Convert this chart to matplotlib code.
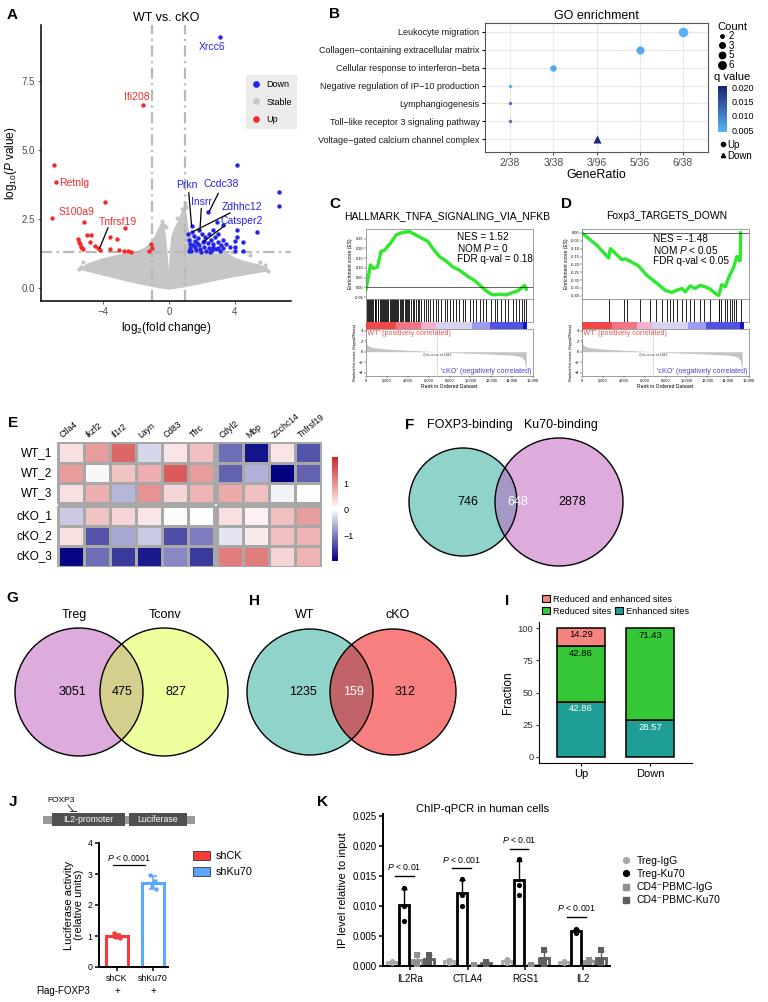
import numpy as np
import matplotlib as mpl
import matplotlib.pyplot as plt
from matplotlib.patches import Circle, Rectangle, Patch
from matplotlib.lines import Line2D
from matplotlib.colors import LinearSegmentedColormap, Normalize

plt.rcParams["font.family"] = ["Liberation Sans", "DejaVu Sans"]
plt.rcParams["mathtext.fontset"] = "custom"
plt.rcParams["mathtext.rm"] = "Liberation Sans"
plt.rcParams["mathtext.it"] = "Liberation Sans:italic"
plt.rcParams["mathtext.bf"] = "Liberation Sans:bold"
plt.rcParams["axes.linewidth"] = 0.8

# ---------------- A: volcano ----------------
up_x = [-6.95, -6.83, -7.07, -3.86, -5.13, -2.67, -1.60, -5.00, -4.75, -3.58, -3.15,
        -5.50, -5.45, -5.40, -5.35, -5.30, -5.20, -4.80, -4.50, -4.30, -4.20, -3.58,
        -3.00, -2.70, -2.50, -2.30, -1.11, -1.00, -1.20]
up_y = [4.47, 3.84, 2.55, 3.12, 2.40, 2.16, 6.63, 1.92, 1.92, 1.85, 1.78,
        1.78, 1.65, 1.58, 1.50, 1.45, 1.42, 1.66, 1.53, 1.45, 1.38, 1.41,
        1.38, 1.33, 1.33, 1.30, 1.60, 1.45, 1.33]
down_x = [3.09, 4.14, 6.67, 6.70, 5.31, 4.15, 2.38, 2.90, 3.30, 2.70, 3.00, 3.30, 4.10,
          4.00, 4.50, 4.00, 4.00, 4.50, 3.70, 3.30, 1.37, 1.41, 1.80, 2.08, 1.20, 1.25,
          1.30, 1.35, 1.50, 1.55, 1.60, 1.65, 1.75, 1.85, 1.90, 2.00, 2.10, 2.20, 2.25,
          2.35, 2.45, 2.55, 2.60, 2.70, 2.80, 2.85, 2.95, 3.10, 3.15, 1.15, 1.22, 1.45,
          1.70, 1.95, 2.15, 2.40, 2.50, 2.65, 3.00, 3.45]
down_y = [9.11, 4.47, 3.49, 2.98, 2.02, 2.10, 2.74, 2.40, 2.30, 2.10, 1.97, 1.74, 1.84,
          1.70, 1.66, 1.50, 1.35, 1.35, 1.50, 1.45, 2.26, 2.04, 2.10, 1.68, 1.75, 1.60,
          1.45, 1.35, 1.90, 1.70, 1.50, 1.38, 1.80, 1.55, 1.40, 1.95, 1.50, 1.85, 1.35,
          1.62, 1.45, 1.75, 1.38, 1.58, 1.85, 1.42, 1.65, 1.35, 1.55, 1.95, 1.35, 1.55,
          1.62, 1.32, 1.72, 1.95, 1.32, 1.50, 1.45, 1.60]
stable_x = [-0.45, 0.95, 5.80, 5.90, -5.20, -1.15, 4.90, 3.80, -0.15, 0.50, 5.50, -5.35,
            -0.30, 0.80, 1.05, 6.00, -5.45]
stable_y = [2.42, 3.08, 0.82, 0.70, 0.95, 1.28, 1.20, 1.30, 2.20, 2.55, 0.95, 0.75,
            2.30, 2.85, 2.95, 0.62, 0.68]
cloud_left_x = [-5.3, -5.0, -4.5, -4.0, -3.5, -3.0, -2.5, -2.0, -1.5, -1.2, -0.9, -0.7, -0.5,
                -0.35, -0.2, -0.08, 0.0, 0.0, -0.5, -1.0, -2.0, -3.0, -4.0, -5.0, -5.3]
cloud_left_y = [0.72, 0.88, 0.98, 1.08, 1.15, 1.22, 1.28, 1.32, 1.45, 1.60, 1.85, 2.10, 2.35,
                2.45, 2.00, 1.20, 0.65, -0.06, -0.02, 0.04, 0.16, 0.30, 0.45, 0.60, 0.65]
cloud_right_x = [0.0, 0.06, 0.15, 0.35, 0.55, 0.75, 0.95, 1.1, 1.2, 1.6, 2.0, 3.0, 3.5, 4.0,
                 4.5, 5.0, 5.5, 5.9, 5.95, 5.5, 5.0, 4.0, 3.0, 2.0, 1.0, 0.0]
cloud_right_y = [0.65, 1.40, 1.90, 2.20, 2.45, 2.75, 3.05, 2.60, 2.10, 1.50, 1.32, 1.25, 1.30,
                 1.10, 1.00, 0.92, 0.85, 0.75, 0.60, 0.55, 0.50, 0.40, 0.28, 0.15, 0.03, -0.06]
volcano_labels = ["Ifi208", "Retnlg", "S100a9", "Tnfrsf19", "Xrcc6", "Prkn", "Ccdc38",
                  "Insrr", "Zdhhc12", "Catsper2"]
volcano_label_dir = ["Up", "Up", "Up", "Up", "Down", "Down", "Down", "Down", "Down", "Down"]

# ---------------- B: GO enrichment ----------------
go_terms = ["Voltage\u2212gated calcium channel complex", "Toll\u2212like receptor 3 signaling pathway",
            "Lymphangiogenesis", "Negative regulation of IP\u221210 production",
            "Cellular response to interferon\u2212beta", "Collagen\u2212containing extracellular matrix",
            "Leukocyte migration"]
go_ratio_levels = ["2/38", "3/38", "3/96", "5/36", "6/38"]
go_ratio = ["3/96", "2/38", "2/38", "2/38", "3/38", "5/36", "6/38"]
go_count = [3, 2, 2, 2, 3, 5, 6]
go_q = [0.0200, 0.0110, 0.0110, 0.0048, 0.0052, 0.0055, 0.0046]
go_dir = ["Down", "Up", "Up", "Up", "Up", "Up", "Up"]

# ---------------- C / D: GSEA ----------------
c_es_rank = [0, 160, 415, 700, 1100, 1435, 1755, 2075, 2390, 2870, 3350, 4150, 4630, 5420, 5900,
             6380, 7020, 7660, 8290, 8930, 9570, 10370, 11000, 11480, 11960, 12280, 12760, 13400,
             14040, 14510, 14930, 15150, 15310]
c_es = [-0.01, 0.035, 0.115, 0.097, 0.105, 0.185, 0.19, 0.21, 0.23, 0.27, 0.28, 0.287, 0.273,
        0.25, 0.237, 0.20, 0.158, 0.135, 0.105, 0.088, 0.062, 0.035, 0.005, -0.018, -0.035,
        -0.039, -0.035, -0.039, -0.026, -0.018, 0.0, 0.01, -0.01]
c_hits = [60, 150, 260, 380, 450, 560, 700, 820, 900, 1000, 1100, 1180, 1300, 1420, 1500, 1580,
          1700, 1800, 1900, 1990, 2100, 2250, 2380, 2450, 2600, 2700, 2800, 2900, 3000, 3100,
          3200, 3350, 3450, 3550, 3700, 3800, 3950, 4050, 4150, 4300, 4450, 4600, 4800, 4950,
          5100, 5300, 5500, 5700, 5900, 6150, 6400, 6700, 6900, 7200, 7500, 7700, 8000, 8300,
          8600, 8900, 9300, 9500, 9900, 10200, 10500, 10900, 11200, 11500, 11900, 12300, 12500,
          12900, 13300, 13600, 14000, 14300, 14600, 14900, 15100, 15250]
c_stats = ["NES = 1.52", "NOM $P$ = 0", "FDR q-val = 0.18"]
d_es_rank = [0, 1427, 2536, 2700, 3800, 4120, 4600, 5390, 6180, 7130, 7925, 8560, 9030, 9510,
             9830, 10300, 10780, 11250, 11730, 12200, 12680, 13000, 13310, 13630, 14040, 14420,
             14740, 14960, 15060, 15100]
d_es = [0.0, -0.079, -0.16, -0.10, -0.17, -0.165, -0.18, -0.21, -0.27, -0.32, -0.365, -0.378,
        -0.364, -0.353, -0.374, -0.337, -0.353, -0.333, -0.343, -0.357, -0.384, -0.398, -0.329,
        -0.343, -0.272, -0.221, -0.150, -0.175, -0.175, 0.0]
d_hits = [2600, 3960, 4280, 5550, 6500, 7070, 7610, 8080, 8400, 8650, 9030, 9510, 9890, 10300,
          10620, 11250, 11570, 12200, 13000, 13090, 13220, 13630, 13850, 14100, 14270, 14490,
          14680, 15120]
d_stats = ["NES = -1.48", "NOM $P$ < 0.05", "FDR q-val < 0.05"]
metric_rank = [0, 100, 300, 800, 2000, 4000, 6000, 6841, 8000, 10000, 12000, 14000, 14800,
               15150, 15300, 15350]
metric_val = [2.0, 1.4, 1.0, 0.75, 0.5, 0.28, 0.08, 0.0, -0.12, -0.3, -0.45, -0.65, -0.9,
              -1.5, -3.0, -4.5]
zero_cross = 6841
strip_edges = [0, 2850, 5250, 6700, 10100, 11800, 15000, 15400]
strip_colors = ["#F04848", "#F27585", "#F5B0CC", "#D6D2F2", "#9C9CF0", "#5252E2", "#1414C4"]

# ---------------- E: heatmap ----------------
hm_genes = ["Ctla4", "Ikzf2", "Il1r2", "Layn", "Cd83", "Tfrc", "Cdyl2", "Mbp", "Zcchc14", "Tnfrsf19"]
hm_samples = ["WT_1", "WT_2", "WT_3", "cKO_1", "cKO_2", "cKO_3"]
hm_vals = np.array([
    [0.30, 0.90, 1.40, -0.30, 0.25, 0.60, -1.10, -1.80, 0.25, -1.30],
    [0.90, -0.05, 0.55, 0.75, 1.50, 0.90, -1.20, -0.60, -2.00, -1.20],
    [0.30, 0.75, -0.55, 1.00, 0.40, 0.70, 0.80, 0.60, -0.08, 0.00],
    [-0.40, 0.55, 0.40, 0.25, 0.05, 0.02, 0.30, 0.15, 0.60, 0.90],
    [0.30, -1.30, -0.65, -0.40, -1.35, -1.00, -0.20, 0.20, 0.60, 0.70],
    [-1.90, -1.10, -1.50, -1.75, -0.90, -1.50, 1.20, 1.20, 0.40, 0.70],
])

# ---------------- F/G/H: Venn ----------------
venn_f_names = ["FOXP3-binding", "Ku70-binding"]
venn_f_counts = [746, 648, 2878]
venn_g_names = ["Treg", "Tconv"]
venn_g_counts = [3051, 475, 827]
venn_h_names = ["WT", "cKO"]
venn_h_counts = [1235, 159, 312]

# ---------------- I: stacked fraction ----------------
i_groups = ["Up", "Down"]
i_enhanced = [42.86, 28.57]
i_reduced = [42.86, 71.43]
i_both = [14.29, 0.0]

# ---------------- J: luciferase ----------------
j_groups = ["shCK", "shKu70"]
j_points = [[1.10, 1.00, 0.97, 0.95], [2.98, 2.78, 2.62, 2.52]]
j_p = "$P$ < 0.0001"

# ---------------- K: ChIP-qPCR ----------------
k_genes = ["IL2Ra", "CTLA4", "RGS1", "IL2"]
k_series = ["Treg-IgG", "Treg-Ku70", "CD4\u207bPBMC-IgG", "CD4\u207bPBMC-Ku70"]
k_points = {
    "Treg-IgG": [[0.0008, 0.0005], [0.0010, 0.0005], [0.0012, 0.0008, 0.0005], [0.0008, 0.0005]],
    "Treg-Ku70": [[0.0129, 0.0100, 0.0075], [0.0145, 0.0118, 0.0100], [0.0178, 0.0135, 0.0118],
                  [0.0062, 0.0058, 0.0055]],
    "CD4\u207bPBMC-IgG": [[0.0018, 0.0003], [0.0001, 0.0001], [0.0001, 0.0001], [0.0010, 0.0006]],
    "CD4\u207bPBMC-Ku70": [[0.0019, 0.0010, 0.0007], [0.0007, 0.0004], [0.0027, 0.0010, 0.0003],
                        [0.0026, 0.0010, 0.0005]],
}
k_pvals = ["$P$ < 0.01", "$P$ < 0.001", "$P$ < 0.01", "$P$ < 0.001"]
k_bar_y = [0.0150, 0.0163, 0.0195, 0.0082]

# =====================================================================
W, H = 768, 1002
fig = plt.figure(figsize=(W / 100, H / 100), dpi=100)


def px_axes(x0, y0, x1, y1):
    return fig.add_axes([x0 / W, 1 - y1 / H, (x1 - x0) / W, (y1 - y0) / H])


def ftext(x, y, s, **kw):
    fig.text(x / W, 1 - y / H, s, **kw)


ov = fig.add_axes([0, 0, 1, 1])
ov.set_xlim(0, W)
ov.set_ylim(H, 0)
ov.axis("off")

for lab, (lx, ly) in zip("ABCDEFGHIJK", [(12, 15), (335, 14), (335, 204), (566, 204), (13, 423),
                                         (410, 425), (12, 598), (254, 601), (507, 601),
                                         (13, 802), (323, 802)]):
    ftext(lx, ly, lab, fontsize=11, fontweight="bold", ha="center", va="center")

RED, BLUE, GREY = "#F22A2A", "#2323EE", "#C6C6C6"

# ---- A
ax = px_axes(41, 25, 291, 301)
ax.fill(cloud_left_x, cloud_left_y, color=GREY, lw=0, zorder=1)
ax.fill(cloud_right_x, cloud_right_y, color=GREY, lw=0, zorder=1)
ax.scatter(stable_x, stable_y, s=9, c=GREY, lw=0, zorder=1)
for xv in (-1, 1):
    ax.axvline(xv, color="#B8B8B8", lw=1.6, ls=(0, (5, 2, 1, 2)), zorder=2)
ax.axhline(-np.log10(0.05), color="#B8B8B8", lw=1.6, ls=(0, (5, 2, 1, 2)), zorder=2)
ax.scatter(up_x, up_y, s=10, c=RED, lw=0, zorder=3)
ax.scatter(down_x, down_y, s=10, c=BLUE, lw=0, zorder=3)
lab_txt = [(-1.94, 6.92), (-6.67, 3.80), (-5.58, 2.75), (-3.09, 2.39), (2.59, 8.75), (1.07, 3.72),
           (3.19, 3.76), (1.98, 3.10), (4.44, 2.92), (4.44, 2.44)]
lab_pt = [None, None, None, (-4.2, 1.45), None, (1.37, 2.26), (2.45, 2.78), (1.88, 2.10),
          (1.45, 2.04), (2.10, 1.68)]
lab_start = [None, None, None, (-3.7, 2.18), None, (1.2, 3.45), (2.99, 3.43), (1.96, 2.88),
             (3.7, 2.72), (3.4, 2.27)]
for name, d, (tx, ty), p, s in zip(volcano_labels, volcano_label_dir, lab_txt, lab_pt, lab_start):
    col = RED if d == "Up" else BLUE
    ax.text(tx, ty, name, color=col, fontsize=7.5, ha="left" if name == "Retnlg" else "center",
            va="center", zorder=5)
    if p is not None:
        ax.plot([s[0], p[0]], [s[1], p[1]], color="black", lw=0.9, zorder=4)
ax.set_xlim(-7.76, 7.4)
ax.set_ylim(-0.47, 9.53)
ax.set_xticks([-4, 0, 4])
ax.set_yticks([0, 2.5, 5.0, 7.5])
ax.set_yticklabels(["0.0", "2.5", "5.0", "7.5"])
for sp in ("top", "right"):
    ax.spines[sp].set_visible(False)
for sp in ("left", "bottom"):
    ax.spines[sp].set_linewidth(1.1)
ax.tick_params(labelsize=7, colors="#4D4D4D", length=2.5, width=0.6, pad=2)
ax.set_xlabel("log$_2$(fold change)", fontsize=8.5, labelpad=2)
ax.set_ylabel("log$_{10}$($P$ value)", fontsize=8.5, labelpad=2)
ax.set_title("WT vs. cKO", fontsize=9, pad=3)
handles = [Line2D([], [], marker="o", ls="", color=c, markersize=3.8) for c in (BLUE, GREY, RED)]
ax.legend(handles, ["Down", "Stable", "Up"], loc="upper left", bbox_to_anchor=(0.8, 0.835),
          fontsize=6.5, facecolor="#EBEBEB", edgecolor="none", framealpha=1, fancybox=False,
          handletextpad=0.5, labelspacing=0.9, borderpad=0.6, handlelength=1.2)

# ---- B
ax = px_axes(485, 23, 708, 152)
qcmap = LinearSegmentedColormap.from_list("q", ["#58B4F4", "#1B2470"])
qnorm = Normalize(0.0043, 0.0205)
xs = [go_ratio_levels.index(r) + 1 for r in go_ratio]
ys = np.arange(1, len(go_terms) + 1)
sizes = np.interp(go_count, [2, 3, 5, 6], [6, 22, 34, 48])
for x, y, s, q, d in zip(xs, ys, sizes, go_q, go_dir):
    ax.scatter(x, y, s=s if d == "Up" else 34, c=[qcmap(qnorm(q))],
               marker="o" if d == "Up" else "^", lw=0, zorder=3)
ax.set_xlim(0.42, 5.58)
ax.set_ylim(0.28, 7.5)
ax.set_xticks(range(1, 6))
ax.set_xticklabels(go_ratio_levels)
ax.set_yticks(ys)
ax.set_yticklabels(go_terms, fontsize=6.5)
ax.grid(color="#E8E8E8", lw=0.8)
ax.set_axisbelow(True)
for sp in ax.spines.values():
    sp.set_color("#555555")
ax.tick_params(axis="x", labelsize=7.5, colors="#4D4D4D", length=2, pad=2)
ax.tick_params(axis="y", length=2, pad=2, labelcolor="#1A1A1A")
ax.set_xlabel("GeneRatio", fontsize=9, labelpad=1)
ax.set_title("GO enrichment", fontsize=9, pad=3)
cnt_levels = [2, 3, 5, 6]
h = [Line2D([], [], marker="o", ls="", color="black", markersize=m) for m in (2.5, 4.0, 4.6, 5.4)]
fig.legend(h, [str(c) for c in cnt_levels], title="Count", loc="upper left",
           bbox_to_anchor=(713 / W, 1 - 17 / H), frameon=False, fontsize=7, title_fontsize=8,
           handletextpad=0.3, labelspacing=-0.05, borderpad=0, handlelength=0.8, alignment="left")
ftext(714, 77, "q value", fontsize=8, ha="left", va="center")
cax = px_axes(718, 86, 727, 132)
cb = fig.colorbar(mpl.cm.ScalarMappable(norm=qnorm, cmap=qcmap), cax=cax)
cb.outline.set_visible(False)
cb.set_ticks([0.005, 0.010, 0.015, 0.020])
cb.ax.tick_params(labelsize=6.5, length=2, color="white", pad=1)
h = [Line2D([], [], marker=m, ls="", color="black", markersize=3) for m in ("o", "^")]
fig.legend(h, ["Up", "Down"], loc="upper left", bbox_to_anchor=(715 / W, 1 - 135 / H),
           frameon=False, fontsize=7, handletextpad=0.2, labelspacing=0.1, borderpad=0,
           handlelength=0.6)


# ---- C / D
def gsea(x0, x1, xmax, title, tx, rank, es, hits, ylim, yticks, stats, sx, sy):
    ax_es = px_axes(x0, 229, x1, 299)
    ax_es.plot(rank, es, color="#2EE82E", lw=2.4, solid_joinstyle="round")
    ax_es.axhline(0, color="#222222", lw=0.5)
    ax_es.set_xlim(0, xmax)
    ax_es.set_ylim(*ylim)
    ax_es.set_xticks([])
    ax_es.set_yticks(yticks)
    ax_es.set_yticklabels(["%.2f" % v for v in yticks])
    ax_es.tick_params(labelsize=2.8, length=1.2, width=0.3, pad=0.8)
    ax_es.set_ylabel("Enrichment score (ES)", fontsize=3.6, labelpad=1)
    for i, s in enumerate(stats):
        ftext(sx, sy + 11 * i, s, fontsize=7.2, ha="left", va="center")
    ftext(tx, 216, title, fontsize=7.5, ha="center", va="center")
    ax_h = px_axes(x0, 299, x1, 322)
    ax_h.vlines(hits, 0, 1, color="black", lw=0.6)
    ax_h.set_xlim(0, xmax)
    ax_h.set_ylim(0, 1)
    ax_h.set_xticks([])
    ax_h.set_yticks([])
    ax_s = px_axes(x0, 322, x1, 329)
    ax_s.bar(strip_edges[:-1], 1, width=np.diff(strip_edges), align="edge", color=strip_colors,
             lw=0)
    ax_s.set_xlim(0, xmax)
    ax_s.set_ylim(0, 1)
    ax_s.axis("off")
    ax_m = px_axes(x0, 329, x1, 376)
    ax_m.fill_between(metric_rank, metric_val, 0, color="#C4C4C4", lw=0)
    ax_m.axvline(zero_cross, color="#999999", lw=0.4, ls=(0, (3, 2)))
    ax_m.text(zero_cross, -0.55, "Zero cross at %d" % zero_cross, fontsize=2.4, ha="center",
              va="center", color="#444444")
    ax_m.text(0.0, 0.97, "'WT' (positively correlated)", transform=ax_m.transAxes, fontsize=5.2,
              color="#F25050", ha="left", va="top")
    ax_m.text(0.99, 0.03, "'cKO' (negatively correlated)", transform=ax_m.transAxes, fontsize=5.2,
              color="#4646E6", ha="right", va="bottom")
    ax_m.set_xlim(0, xmax)
    ax_m.set_ylim(-4.6, 4.3)
    ax_m.set_yticks([-4, -2, 0, 2, 4])
    ax_m.set_xticks(range(0, 16001, 2000))
    ax_m.set_xticklabels(["{:,}".format(v) for v in range(0, 16001, 2000)])
    ax_m.tick_params(labelsize=2.8, length=1.2, width=0.3, pad=0.8)
    ax_m.set_ylabel("Ranked list metric (Signal2Noise)", fontsize=2.8, labelpad=1)
    ax_m.set_xlabel("Rank in Ordered Dataset", fontsize=3.6, labelpad=1)
    for a in (ax_es, ax_h, ax_m):
        for sp in a.spines.values():
            sp.set_color("#777777")
            sp.set_linewidth(0.5)


gsea(366, 533, 15950, "HALLMARK_TNFA_SIGNALING_VIA_NFKB", 447, c_es_rank, c_es, c_hits,
     (-0.06, 0.30), [-0.05, 0.0, 0.05, 0.10, 0.15, 0.20, 0.25], c_stats, 457, 237)
gsea(582, 749, 15900, "Foxp3_TARGETS_DOWN", 667, d_es_rank, d_es, d_hits,
     (-0.42, 0.025), [-0.40, -0.35, -0.30, -0.25, -0.20, -0.15, -0.10, -0.05, 0.0], d_stats,
     653, 239)

# ---- E
ax = px_axes(57, 442, 322, 567)
hcmap = LinearSegmentedColormap.from_list("hm", ["#000080", "#FFFFFF", "#CD2626"])
hnorm = Normalize(-1.96, 1.99)
gx, gy = 0.15, 0.1
for r0, r1, yo in ((0, 3, 0), (3, 6, gy)):
    for c0, c1, xo in ((0, 6, 0), (6, 10, gx)):
        ax.pcolormesh(np.arange(c0, c1 + 1) + xo, np.arange(r0, r1 + 1) + yo, hm_vals[r0:r1, c0:c1],
                      cmap=hcmap, norm=hnorm, edgecolors="#A8A8A8", lw=0.9)
ax.set_xlim(-0.02, 10 + gx + 0.02)
ax.set_ylim(6 + gy + 0.02, -0.02)
ax.axis("off")
for j, g in enumerate(hm_genes):
    xc = j + 0.5 + (gx if j >= 6 else 0)
    ax.text(xc - 0.25, -0.12, g, rotation=40, fontsize=6.2, ha="left", va="bottom",
            rotation_mode="anchor")
for i, s in enumerate(hm_samples):
    yc = i + 0.5 + (gy if i >= 3 else 0)
    ax.text(-0.2, yc, s, fontsize=8.5, ha="right", va="center")
cax = px_axes(332, 457, 338, 561)
cb = fig.colorbar(mpl.cm.ScalarMappable(norm=hnorm, cmap=hcmap), cax=cax)
cb.outline.set_visible(False)
cb.set_ticks([-1, 0, 1])
cb.set_ticklabels(["\u22121", "0", "1"])
cb.ax.tick_params(labelsize=6.5, length=2, color="white", pad=2)


# ---- F / G / H Venn diagrams (overlay axes in pixel units)
def venn(cxl, cy, rl, rr, dist, cols, mid_col, names, counts, name_x, name_y, cnt_x, mid_white):
    cxr = cxl + dist
    cl = Circle((cxl, cy), rl, fc=cols[0], ec="none")
    cr = Circle((cxr, cy), rr, fc=cols[1], ec="none")
    ov.add_patch(cl)
    ov.add_patch(cr)
    lens = Circle((cxr, cy), rr, fc=mid_col, ec="none")
    ov.add_patch(lens)
    lens.set_clip_path(cl)
    ov.add_patch(Circle((cxl, cy), rl, fc="none", ec="black", lw=1.0))
    ov.add_patch(Circle((cxr, cy), rr, fc="none", ec="black", lw=1.0))
    for nx, n in zip(name_x, names):
        ov.text(nx, name_y, n, fontsize=9, ha="center", va="center")
    for k, (x, c) in enumerate(zip(cnt_x, counts)):
        ov.text(x, cy, str(c), fontsize=9, ha="center", va="center",
                color="white" if (k == 1 and mid_white) else "black")


venn(463, 502, 54, 64, 96, ["#8FD3CA", "#DDABDC"], "#A598C4", venn_f_names, venn_f_counts,
     [470, 561], 425, [468, 518, 572], True)
venn(79, 692, 64, 64, 85, ["#DDABDC", "#EFFF9E"], "#D5CF8E", venn_g_names, venn_g_counts,
     [74, 165], 615, [72, 122, 176], False)
venn(310, 692, 63, 63, 83, ["#8FD3CA", "#F87F7F"], "#C26467", venn_h_names, venn_h_counts,
     [305, 398], 615, [303, 353, 405], True)

# ---- I
ax = px_axes(539, 622, 692, 763)
I_COL = {"both": "#F5847F", "red": "#35C735", "enh": "#1F9E96"}
xi = np.arange(1, 3)
ax.bar(xi, i_enhanced, width=0.7, color=I_COL["enh"], ec="black", lw=1.1)
bot = np.array(i_enhanced)
ax.bar(xi, i_reduced, width=0.7, bottom=bot, color=I_COL["red"], ec="black", lw=1.1)
bot2 = bot + np.array(i_reduced)
ax.bar(xi[:1], i_both[:1], width=0.7, bottom=bot2[:1], color=I_COL["both"], ec="black", lw=1.1)
for k in range(2):
    ax.text(xi[k], i_enhanced[k] - 5.5, "%.2f" % i_enhanced[k], color="white", fontsize=6.8,
            ha="center", va="center")
    ax.text(xi[k], bot2[k] - 5.5, "%.2f" % i_reduced[k], color="black", fontsize=6.8,
            ha="center", va="center")
    if i_both[k] > 0:
        ax.text(xi[k], bot2[k] + i_both[k] - 5, "%.2f" % i_both[k], color="black", fontsize=6.8,
                ha="center", va="center")
ax.set_xlim(0.39, 2.61)
ax.set_ylim(-4.7, 104.7)
ax.set_xticks(xi)
ax.set_xticklabels(i_groups, fontsize=8)
ax.set_yticks([0, 25, 50, 75, 100])
ax.tick_params(axis="y", labelsize=6.8, length=2, pad=2, colors="#333333")
ax.tick_params(axis="x", length=2, pad=2)
ax.set_ylabel("Fraction", fontsize=8.5, labelpad=3)
for sp in ("top", "right"):
    ax.spines[sp].set_visible(False)
fig.legend([Patch(fc=I_COL["both"], ec="black", lw=0.8)], ["Reduced and enhanced sites"],
           loc="center left", bbox_to_anchor=(542 / W, 1 - 599 / H), frameon=False, fontsize=6.6,
           handlelength=0.9, handleheight=0.9, handletextpad=0.3, borderpad=0, borderaxespad=0)
fig.legend([Patch(fc=I_COL["red"], ec="black", lw=0.8), Patch(fc=I_COL["enh"], ec="black", lw=0.8)],
           ["Reduced sites", "Enhanced sites"], ncol=2, loc="center left",
           bbox_to_anchor=(542 / W, 1 - 611 / H), frameon=False, fontsize=6.6, handlelength=0.9,
           handleheight=0.9, handletextpad=0.3, borderpad=0, borderaxespad=0, columnspacing=0.4)

# ---- J construct + bars
ov.add_patch(Rectangle((43, 816), 152, 8, fc="#9A9A9A", ec="none"))
for (bx, bw, lab) in ((52, 73, "IL2-promoter"), (129, 58, "Luciferase")):
    ov.add_patch(Rectangle((bx, 813), bw, 13, fc="#505050", ec="none"))
    ov.text(bx + bw / 2, 819.5, lab, color="white", fontsize=6.3, ha="center", va="center")
ov.text(47, 801, "FOXP3", fontsize=6, ha="left", va="center")
ov.plot([68, 73], [805, 811], color="#333333", lw=0.7)
ov.plot([70, 76], [811, 811], color="#333333", lw=0.7)

ax = px_axes(99, 843, 168, 967)
J_COL = ["#F83A3A", "#5AA8FF"]
jmeans = [np.mean(p) for p in j_points]
jsd = [np.std(p, ddof=1) for p in j_points]
jx = np.arange(2)
ax.bar(jx, jmeans, width=0.6, fc="white", ec=J_COL, lw=2.2, zorder=2)
for k in range(2):
    ax.errorbar(jx[k], jmeans[k], yerr=jsd[k], color=J_COL[k], capsize=3, lw=1.2, capthick=1.2,
                zorder=3)
    ax.scatter(jx[k] + np.array([-0.08, 0.06, -0.03, 0.09]), j_points[k], s=10, color=J_COL[k],
               zorder=4, lw=0)
ax.plot([-0.12, 0.78], [3.28, 3.28], color="black", lw=0.9)
ax.text(0.33, 3.52, j_p, fontsize=6.3, ha="center", va="center")
ax.set_xlim(-0.5, 1.42)
ax.set_ylim(0, 4)
ax.set_yticks(range(5))
ax.set_xticks(jx)
ax.set_xticklabels(j_groups, fontsize=6.3)
ax.tick_params(axis="y", labelsize=6.3, length=3, width=1.1, pad=1.5)
ax.tick_params(axis="x", length=3, width=1.1, pad=2)
for sp in ("top", "right"):
    ax.spines[sp].set_visible(False)
for sp in ("left", "bottom"):
    ax.spines[sp].set_linewidth(1.4)
ax.set_ylabel("Luciferase activity\n(relative units)", fontsize=8, labelpad=3, linespacing=1.0)
ftext(63, 991, "Flag-FOXP3", fontsize=7, ha="center", va="center")
for k in range(2):
    ftext(117 + 36 * k, 991, "+", fontsize=7, ha="center", va="center")
fig.legend([Patch(fc=c, ec="#333333", lw=0.6) for c in J_COL], j_groups, loc="upper left",
           bbox_to_anchor=(193 / W, 1 - 851 / H), frameon=False, fontsize=7.8, handlelength=1.6,
           handleheight=0.9, handletextpad=0.5, labelspacing=0.5, borderpad=0, borderaxespad=0)

# ---- K
ax = px_axes(383, 814, 610, 966)
K_COL = {"Treg-IgG": "#A8A8A8", "Treg-Ku70": "#000000", "CD4\u207bPBMC-IgG": "#8F8F8F",
         "CD4\u207bPBMC-Ku70": "#5E5E5E"}
K_MK = {"Treg-IgG": "o", "Treg-Ku70": "o", "CD4\u207bPBMC-IgG": "s", "CD4\u207bPBMC-Ku70": "s"}
gcent = np.arange(len(k_genes)) * 4.65
offs = [-1.5, -0.5, 0.5, 1.5]
for si, ser in enumerate(k_series):
    for gi in range(len(k_genes)):
        pts = k_points[ser][gi]
        m = np.mean(pts)
        sd = np.std(pts, ddof=1)
        x = gcent[gi] + offs[si]
        ax.bar(x, m, width=0.8, fc="white", ec=K_COL[ser], lw=2.0, zorder=2)
        ax.errorbar(x, m, yerr=[[0], [sd]], color=K_COL[ser], capsize=2.5, lw=1.0, capthick=1.0,
                    zorder=3)
        ax.scatter([x] * len(pts), pts, s=14, marker=K_MK[ser], color=K_COL[ser], lw=0, zorder=4)
for gi in range(len(k_genes)):
    xc = gcent[gi] + offs[1]
    ax.plot([xc - 0.75, xc + 0.75], [k_bar_y[gi]] * 2, color="black", lw=1.0)
    ax.text(xc, k_bar_y[gi] + 0.0014, k_pvals[gi], fontsize=6.3, ha="center", va="center")
ax.set_xlim(-2.23, gcent[-1] + 2.23)
ax.set_ylim(0, 0.0253)
ax.set_xticks(gcent)
ax.set_xticklabels(k_genes, fontsize=7)
ax.set_yticks([0, 0.005, 0.010, 0.015, 0.020, 0.025])
ax.set_yticklabels(["0.000", "0.005", "0.010", "0.015", "0.020", "0.025"])
ax.tick_params(axis="y", labelsize=7, length=3, width=1.1, pad=1.5)
ax.tick_params(axis="x", length=3, width=1.1, pad=3)
for sp in ("top", "right"):
    ax.spines[sp].set_visible(False)
for sp in ("left", "bottom"):
    ax.spines[sp].set_linewidth(1.4)
ax.set_ylabel("IP level relative to input", fontsize=8, labelpad=3)
ftext(483, 809, "ChIP-qPCR in human cells", fontsize=8, ha="center", va="center")
fig.legend([Line2D([], [], marker=K_MK[s], ls="", color=K_COL[s], markersize=4.2) for s in k_series],
           k_series, loc="upper left", bbox_to_anchor=(622 / W, 1 - 856 / H), frameon=False,
           fontsize=7.5, handlelength=0.8, handletextpad=0.6, labelspacing=0.3, borderpad=0,
           borderaxespad=0)

fig.savefig("out.png", dpi=100)
